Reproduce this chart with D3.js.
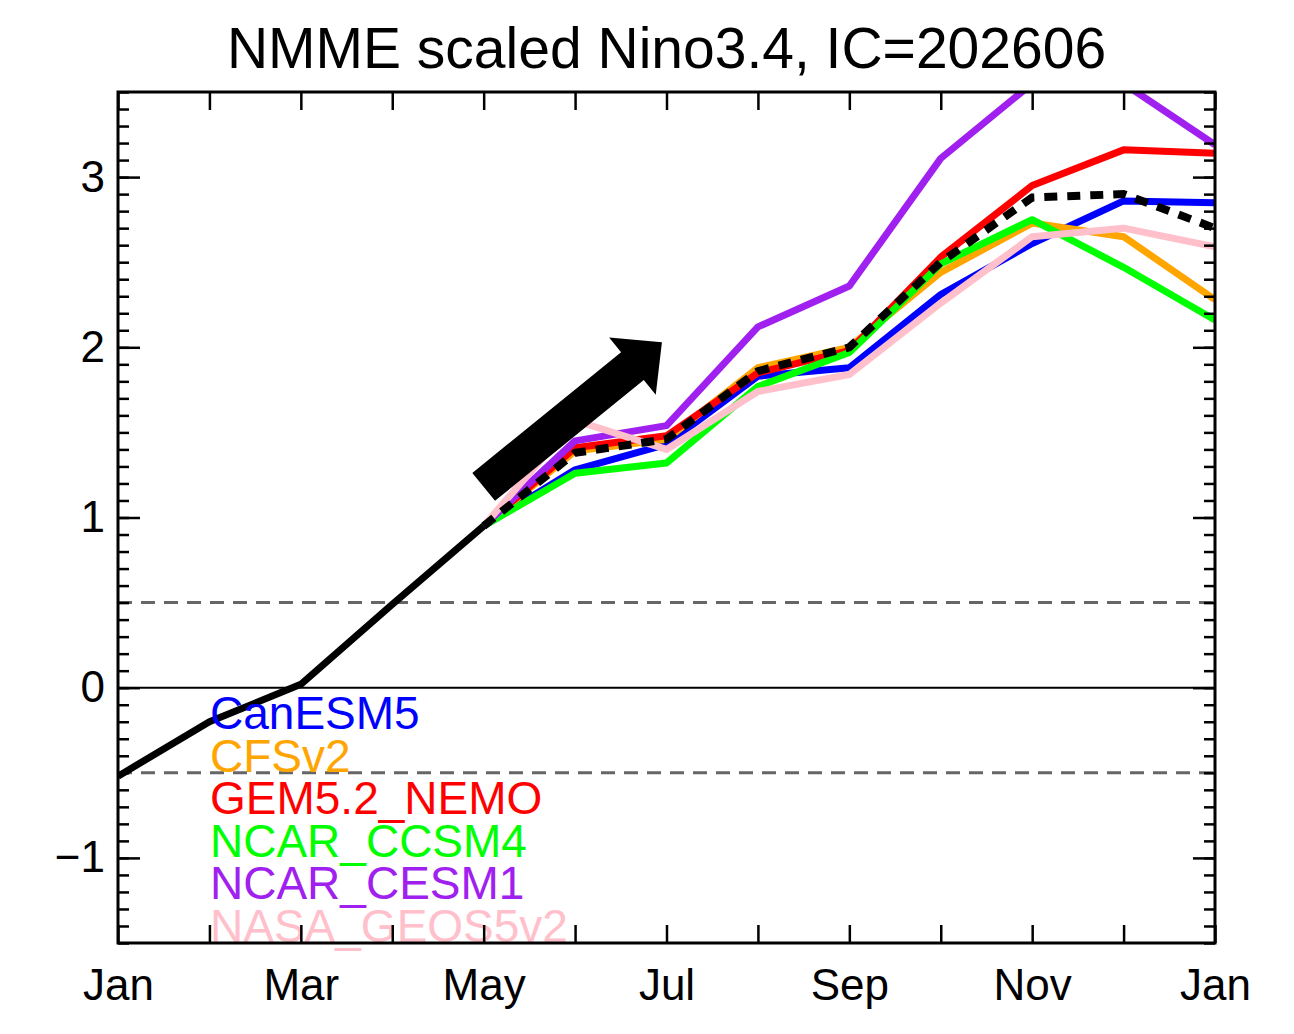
<!DOCTYPE html>
<html>
<head>
<meta charset="utf-8">
<script src="https://cdn.jsdelivr.net/npm/d3@7"></script>
<style>
  html, body { margin: 0; padding: 0; background: #fff; }
  svg text { font-family: "Liberation Sans", Arial, Helvetica, sans-serif; }
</style>
</head>
<body>
<div id="chart"></div>
<script>
/** Chart data */
const title = "NMME scaled Nino3.4, IC=202606";
const monthLabels = ["Jan", "Feb", "Mar", "Apr", "May", "Jun", "Jul", "Aug", "Sep", "Oct", "Nov", "Dec", "Jan"];
const yTickValues = [-1, 0, 1, 2, 3];
const refLevels = [-0.5, 0.5];

// observed (Jan..May)
const obsMonths = [0, 1, 2, 3, 4];
const obsValues = [-0.52, -0.2, 0.02, 0.49, 0.95];

// forecasts (May..Jan)
const fcstMonths = [4, 5, 6, 7, 8, 9, 10, 11, 12];
const modelNames = ["CanESM5", "CFSv2", "GEM5.2_NEMO", "NCAR_CCSM4", "NCAR_CESM1", "NASA_GEOS5v2"];
const modelColors = ["#0000ff", "#ffa500", "#ff0000", "#00ff00", "#a020f0", "#ffc0cb"];
const canesm5 = [0.95, 1.28, 1.43, 1.83, 1.88, 2.31, 2.61, 2.86, 2.85];
const cfsv2 = [0.95, 1.39, 1.46, 1.88, 2.00, 2.44, 2.73, 2.65, 2.28];
const gem52 = [0.95, 1.41, 1.48, 1.85, 1.98, 2.53, 2.95, 3.16, 3.14];
const ccsm4 = [0.95, 1.26, 1.32, 1.77, 1.97, 2.49, 2.75, 2.47, 2.16];
const cesm1 = [0.95, 1.45, 1.54, 2.12, 2.36, 3.11, 3.55, 3.55, 3.19];
const geos5 = [0.95, 1.57, 1.40, 1.74, 1.84, 2.26, 2.65, 2.70, 2.59];
const ensMean = [0.95, 1.38, 1.46, 1.86, 2.00, 2.50, 2.88, 2.90, 2.70];
const modelValues = [canesm5, cfsv2, gem52, ccsm4, cesm1, geos5];

// arrow annotation, in data units (month index, value)
const arrowTail = [4.0, 1.18];
const arrowTip = [5.95, 2.03];

/** Layout */
const width = 1294;
const height = 1034;
const plotLeft = 118, plotRight = 1215, plotTop = 92, plotBottom = 943;

const x = d3.scaleLinear().domain([0, 12]).range([plotLeft, plotRight]);
const y = d3.scaleLinear().domain([-1.5, 3.5]).range([plotBottom, plotTop]);

const svg = d3.select("#chart").append("svg")
  .attr("width", width)
  .attr("height", height);

/** Title */
svg.append("text")
  .attr("x", (plotLeft + plotRight) / 2)
  .attr("y", 68)
  .attr("text-anchor", "middle")
  .attr("font-size", 57)
  .text(title);

/** Clip */
svg.append("clipPath").attr("id", "plot-clip")
  .append("rect")
  .attr("x", plotLeft).attr("y", plotTop)
  .attr("width", plotRight - plotLeft).attr("height", plotBottom - plotTop);

const plot = svg.append("g").attr("clip-path", "url(#plot-clip)");

/** Reference lines */
plot.selectAll(".ref")
  .data(refLevels)
  .join("line")
  .attr("x1", plotLeft).attr("x2", plotRight)
  .attr("y1", d => y(d)).attr("y2", d => y(d))
  .attr("stroke", "#666")
  .attr("stroke-width", 3)
  .attr("stroke-dasharray", "14 9");

plot.append("line")
  .attr("x1", plotLeft).attr("x2", plotRight)
  .attr("y1", y(0)).attr("y2", y(0))
  .attr("stroke", "#000")
  .attr("stroke-width", 2);

const line = d3.line()
  .x(d => x(d[0]))
  .y(d => y(d[1]));

/** Model lines */
modelValues.forEach((vals, i) => {
  plot.append("path")
    .datum(fcstMonths.map((m, j) => [m, vals[j]]))
    .attr("fill", "none")
    .attr("stroke", modelColors[i])
    .attr("stroke-width", 7)
    .attr("stroke-linejoin", "round")
    .attr("d", line);
});

/** Ensemble mean */
plot.append("path")
  .datum(fcstMonths.map((m, j) => [m, ensMean[j]]))
  .attr("fill", "none")
  .attr("stroke", "#000")
  .attr("stroke-width", 8)
  .attr("stroke-dasharray", "13 10")
  .attr("d", line);

/** Observed */
plot.append("path")
  .datum(obsMonths.map((m, j) => [m, obsValues[j]]))
  .attr("fill", "none")
  .attr("stroke", "#000")
  .attr("stroke-width", 7)
  .attr("stroke-linejoin", "round")
  .attr("d", line);

/** Arrow */
const tx = x(arrowTail[0]), ty = y(arrowTail[1]);
const px = x(arrowTip[0]), py = y(arrowTip[1]);
const len = Math.hypot(px - tx, py - ty);
const ux = (px - tx) / len, uy = (py - ty) / len;
const nx = -uy, ny = ux;
const shaftW = 18, headW = 37, headL = 38;
const bx = px - ux * headL, by = py - uy * headL;
const arrowPts = [
  [tx + nx * shaftW, ty + ny * shaftW],
  [bx + nx * shaftW, by + ny * shaftW],
  [bx + nx * headW, by + ny * headW],
  [px, py],
  [bx - nx * headW, by - ny * headW],
  [bx - nx * shaftW, by - ny * shaftW],
  [tx - nx * shaftW, ty - ny * shaftW]
];
svg.append("path")
  .attr("d", "M" + arrowPts.map(p => p.join(",")).join("L") + "Z")
  .attr("fill", "#000");

/** Legend */
svg.append("g")
  .selectAll("text")
  .data(modelNames)
  .join("text")
  .attr("x", 210)
  .attr("y", (d, i) => 729 + i * 42.6)
  .attr("font-size", 46)
  .attr("fill", (d, i) => modelColors[i])
  .text(d => d);

/** Axes */
const minorY = d3.range(-15, 36).map(d => d / 10);
const months = d3.range(13);

const axisStyle = g => {
  g.select(".domain").remove();
  g.selectAll(".tick line").attr("stroke", "#000").attr("stroke-width", 2.5);
  g.selectAll("text").attr("font-size", 44).attr("fill", "#000")
    .attr("font-family", "'Liberation Sans', Arial, Helvetica, sans-serif");
};

// bottom
svg.append("g")
  .attr("transform", `translate(0,${plotBottom})`)
  .call(d3.axisBottom(x).tickValues(months).tickSizeInner(-18).tickSizeOuter(0)
    .tickPadding(26).tickFormat(d => d % 2 === 0 ? monthLabels[d] : ""))
  .call(axisStyle);

// top
svg.append("g")
  .attr("transform", `translate(0,${plotTop})`)
  .call(d3.axisTop(x).tickValues(months).tickSizeInner(-18).tickSizeOuter(0).tickFormat(""))
  .call(axisStyle);

// left minor + major
svg.append("g")
  .attr("transform", `translate(${plotLeft},0)`)
  .call(d3.axisLeft(y).tickValues(minorY).tickSizeInner(-11).tickSizeOuter(0).tickFormat(""))
  .call(axisStyle);
svg.append("g")
  .attr("transform", `translate(${plotLeft},0)`)
  .call(d3.axisLeft(y).tickValues(yTickValues).tickSizeInner(-22).tickSizeOuter(0)
    .tickPadding(13).tickFormat(d3.format("d")))
  .call(axisStyle);

// right minor + major
svg.append("g")
  .attr("transform", `translate(${plotRight},0)`)
  .call(d3.axisRight(y).tickValues(minorY).tickSizeInner(-11).tickSizeOuter(0).tickFormat(""))
  .call(axisStyle);
svg.append("g")
  .attr("transform", `translate(${plotRight},0)`)
  .call(d3.axisRight(y).tickValues(yTickValues).tickSizeInner(-22).tickSizeOuter(0).tickFormat(""))
  .call(axisStyle);

/** Frame */
svg.append("rect")
  .attr("x", plotLeft).attr("y", plotTop)
  .attr("width", plotRight - plotLeft).attr("height", plotBottom - plotTop)
  .attr("fill", "none")
  .attr("stroke", "#000")
  .attr("stroke-width", 3);
</script>
</body>
</html>
